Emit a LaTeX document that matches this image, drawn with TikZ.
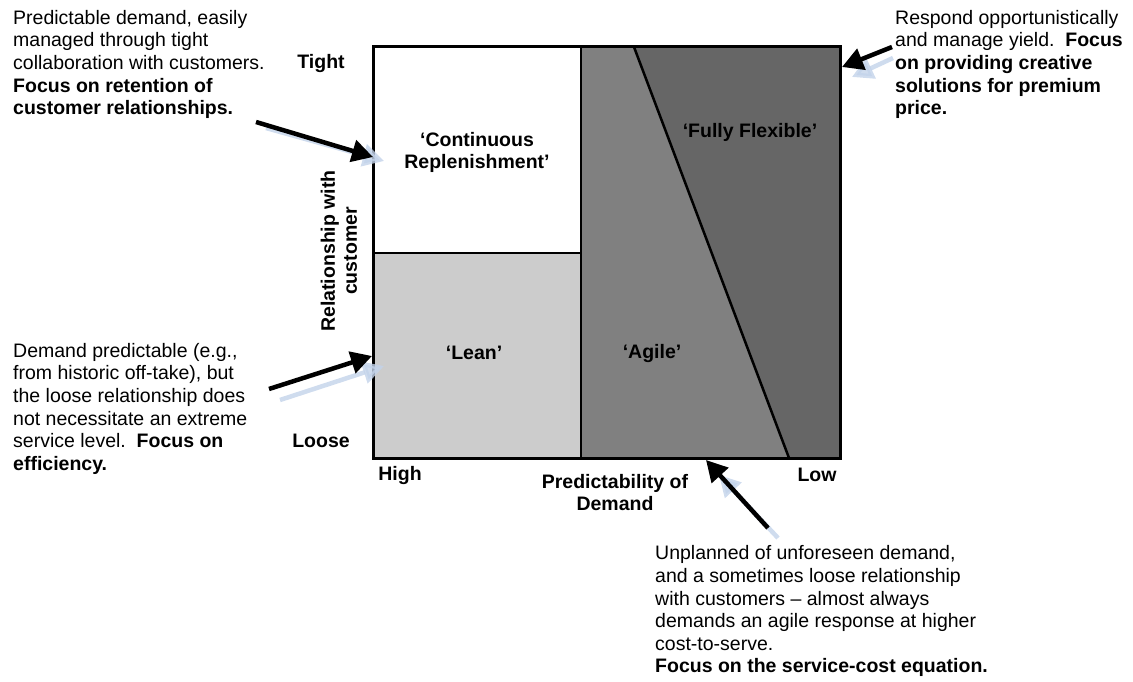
\documentclass[tikz,border=0pt]{standalone}
\usepackage{fontspec}
\setmainfont{Liberation Sans}
\usetikzlibrary{arrows.meta}
\definecolor{leanc}{HTML}{CCCCCC}
\definecolor{agilec}{HTML}{808080}
\definecolor{flexc}{HTML}{666666}
\definecolor{shadowc}{HTML}{C3D3EA}
\begin{document}
\begin{tikzpicture}[x=1pt,y=-1pt,
  txt/.style={font=\fontsize{19.5}{22.6}\selectfont, inner sep=0pt, align=left, anchor=north west},
  lbl/.style={font=\fontsize{19.5}{22}\selectfont\bfseries, inner sep=0pt, align=center},
  arr/.style={line width=4.5pt, -{Triangle[length=21pt,width=22pt]}, black},
  shd/.style={line width=4.5pt, -{Triangle[length=21pt,width=22pt]}, shadowc, opacity=0.8},
  edge/.style={line width=2.5pt, black}
]
\useasboundingbox (0,0) rectangle (1133,682);
% quadrants
\coordinate (tl) at (373,47);
\coordinate (br) at (840,458);
\coordinate (mt) at (581,47);
\coordinate (mb) at (581,458);
\coordinate (ml) at (373,253);
\coordinate (mm) at (581,253);
\coordinate (dt) at (634,47);
\coordinate (db) at (789,458);
\fill[white] (tl) rectangle (mm);
\fill[leanc] (ml) rectangle (mb);
\fill[agilec] (mt) -- (dt) -- (db) -- (mb) -- cycle;
\fill[flexc] (dt) -- (840,47) -- (br) -- (db) -- cycle;
\draw[edge] (mt) -- (mb);
\draw[edge] (ml) -- (mm);
\draw[edge] (dt) -- (db);
\draw[line width=3pt] (tl) rectangle (br);
% quadrant labels
\node[lbl] (cr) at (477,152) {`Continuous\\Replenishment'};
\node[lbl] (lean) at (474,353) {`Lean'};
\node[lbl] (agile) at (652,353) {`Agile'};
\node[lbl] (flex) at (750,132) {`Fully Flexible'};
% axis labels
\node[lbl] (tight) at (321,64) {Tight};
\node[lbl] (loose) at (321,441) {Loose};
\node[lbl] (high) at (400,475) {High};
\node[lbl] (low) at (817,475) {Low};
\node[lbl] (pred) at (615,493) {Predictability of\\Demand};
\node[lbl, rotate=90] (rel) at (339,251) {Relationship with\\customer};
% text blocks
\node[txt] (t1) at (13,10) {Predictable demand, easily\\managed through tight\\collaboration with customers.\\\textbf{Focus on retention of}\\\textbf{customer relationships.}};
\node[txt] (t2) at (13,343) {Demand predictable (e.g.,\\from historic off-take), but\\the loose relationship does\\not necessitate an extreme\\service level.\ \ \textbf{Focus on}\\\textbf{efficiency.}};
\node[txt] (t3) at (895,10) {Respond opportunistically\\and manage yield.\ \ \textbf{Focus}\\\textbf{on providing creative}\\\textbf{solutions for premium}\\\textbf{price.}};
\node[txt] (t4) at (655,545.5) {Unplanned of unforeseen demand,\\and a sometimes loose relationship\\with customers -- almost always\\demands an agile response at higher\\cost-to-serve.\\\textbf{Focus on the service-cost equation.}};
% arrows
\coordinate (a1s) at (256,122); \coordinate (a1e) at (373,157);
\coordinate (s1s) at (266,128); \coordinate (s1e) at (384,161);
\coordinate (a2s) at (269,389); \coordinate (a2e) at (372,356);
\coordinate (s2s) at (280,400); \coordinate (s2e) at (384,366);
\coordinate (a3s) at (892,47); \coordinate (a3e) at (842,67);
\coordinate (s3s) at (893,58); \coordinate (s3e) at (852,77);
\coordinate (a4s) at (768,528); \coordinate (a4e) at (706,460);
\coordinate (s4s) at (778,538); \coordinate (s4e) at (719,475);
\draw[shd] (s1s) -- (s1e);
\draw[shd] (s2s) -- (s2e);
\draw[shd] (s3s) -- (s3e);
\draw[shd] (s4s) -- (s4e);
\draw[arr] (a1s) -- (a1e);
\draw[arr] (a2s) -- (a2e);
\draw[arr] (a3s) -- (a3e);
\draw[arr] (a4s) -- (a4e);
\end{tikzpicture}
\end{document}
